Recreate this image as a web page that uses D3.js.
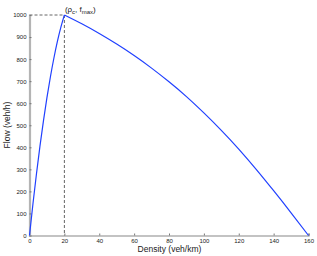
<!DOCTYPE html>
<html>
<head>
<meta charset="utf-8">
<script src="https://cdn.jsdelivr.net/npm/d3@7"></script>
<style>
  body { margin: 0; background: #fff; }
  svg { display: block; font-family: "Liberation Sans", Arial, sans-serif; }
</style>
</head>
<body>
<div id="chart"></div>
<script>
// free-flow branch: density (veh/km) and flow (veh/h)
const freeDensity = [0, 2, 4, 6, 8, 10, 12, 14, 16, 18, 20];
const freeFlow = [0, 145, 280, 405, 520, 625, 720, 805, 880, 945, 1000];
// congested branch
const congDensity = [20, 30, 40, 50, 60, 70, 80, 90, 100, 110, 120, 130, 140, 150, 160];
const congFlow = [1000, 960, 916, 868, 816, 759, 697, 630, 556, 477, 392, 300, 203, 103, 0];
const xTicks = [0, 20, 40, 60, 80, 100, 120, 140, 160];
const yTicks = [0, 100, 200, 300, 400, 500, 600, 700, 800, 900, 1000];
const critical = { density: 20, flow: 1000 };

const width = 317, height = 256;
const svg = d3.select("#chart").append("svg")
    .attr("width", width)
    .attr("height", height);

const x = d3.scaleLinear().domain([0, 160]).range([29.5, 308.5]);
const y = d3.scaleLinear().domain([0, 1000]).range([235.5, 15]);

// dashed guide lines to the critical point
svg.append("line")
    .attr("x1", x(0)).attr("x2", x(critical.density))
    .attr("y1", y(critical.flow)).attr("y2", y(critical.flow))
    .attr("stroke", "#666").attr("stroke-width", 1)
    .attr("stroke-dasharray", "3,2");
svg.append("line")
    .attr("x1", x(critical.density)).attr("x2", x(critical.density))
    .attr("y1", y(critical.flow)).attr("y2", y(0))
    .attr("stroke", "#666").attr("stroke-width", 1)
    .attr("stroke-dasharray", "3,2");

// axes
const xAxis = svg.append("g")
    .attr("transform", `translate(0, ${y(0)})`)
    .call(d3.axisBottom(x).tickValues(xTicks).tickFormat(d3.format("d"))
        .tickSize(-2).tickPadding(3));
xAxis.select(".domain").attr("stroke", "#888").attr("stroke-width", 1.2);

const yAxis = svg.append("g")
    .attr("transform", `translate(${x(0)}, 0)`)
    .call(d3.axisLeft(y).tickValues(yTicks).tickFormat(d3.format("d"))
        .tickSize(-2).tickPadding(3));
yAxis.select(".domain").attr("stroke", "#b4b4b4").attr("stroke-width", 2.2);

svg.selectAll(".tick line").attr("stroke", "#777");
svg.selectAll(".tick text")
    .attr("font-size", 6)
    .attr("font-family", "Liberation Sans, Arial, sans-serif")
    .attr("fill", "#222");

// flow-density curve, one smooth piece per branch
const line = d3.line()
    .x(d => x(d[0]))
    .y(d => y(d[1]))
    .curve(d3.curveNatural);

const branches = [
  freeDensity.map((d, i) => [d, freeFlow[i]]),
  congDensity.map((d, i) => [d, congFlow[i]])
];

svg.selectAll(".branch")
    .data(branches)
    .enter()
    .append("path")
    .attr("class", "branch")
    .attr("fill", "none")
    .attr("stroke", "#2040ff")
    .attr("stroke-width", 1.2)
    .attr("stroke-linejoin", "round")
    .attr("d", line);

// axis labels
svg.append("text")
    .attr("x", 169.5)
    .attr("y", 252)
    .attr("text-anchor", "middle")
    .attr("font-size", 8.5)
    .attr("fill", "#222")
    .text("Density (veh/km)");

svg.append("text")
    .attr("transform", "translate(10, 125) rotate(-90)")
    .attr("text-anchor", "middle")
    .attr("font-size", 8.5)
    .attr("fill", "#222")
    .text("Flow (veh/h)");

// annotation at the critical point
const note = svg.append("text")
    .attr("x", x(critical.density) + 0.5)
    .attr("y", 11.5)
    .attr("font-size", 8)
    .attr("fill", "#222");
note.append("tspan").text("(ρ");
note.append("tspan").attr("font-size", 6).attr("dy", 2).text("c");
note.append("tspan").attr("dy", -2).text(", f");
note.append("tspan").attr("font-size", 6).attr("dy", 2).text("max");
note.append("tspan").attr("dy", -2).text(")");
</script>
</body>
</html>
